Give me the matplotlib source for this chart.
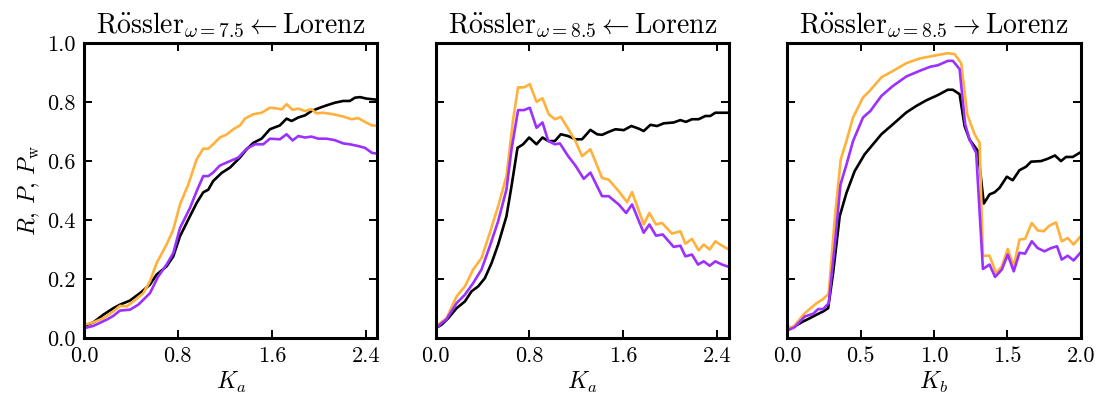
import numpy as np
import matplotlib; matplotlib.use("Agg")
import matplotlib.pyplot as plt

# panel 1: Rossler(w=7.5) <- Lorenz
p1_black_x = [0, 0.08, 0.165, 0.25, 0.307, 0.392, 0.477, 0.562, 0.619, 0.704, 0.761, 0.818, 0.903, 0.96, 1.016,
              1.059, 1.10, 1.173, 1.244, 1.329, 1.386, 1.443, 1.513, 1.584, 1.669, 1.726, 1.769, 1.826, 1.882,
              1.939, 2.01, 2.067, 2.137, 2.209, 2.265, 2.308, 2.351, 2.407, 2.45, 2.5]
p1_black_y = [0.041, 0.053, 0.079, 0.101, 0.113, 0.127, 0.152, 0.181, 0.215, 0.243, 0.277, 0.345, 0.413, 0.458,
              0.494, 0.503, 0.532, 0.56, 0.578, 0.612, 0.64, 0.662, 0.676, 0.708, 0.721, 0.744, 0.736, 0.748,
              0.755, 0.77, 0.781, 0.789, 0.798, 0.804, 0.804, 0.815, 0.817, 0.812, 0.81, 0.808]
p1_orange_x = [0, 0.08, 0.165, 0.25, 0.307, 0.364, 0.42, 0.505, 0.562, 0.619, 0.704, 0.761, 0.818, 0.889, 0.96,
               1.016, 1.059, 1.10, 1.158, 1.215, 1.272, 1.329, 1.371, 1.443, 1.513, 1.584, 1.655, 1.683, 1.726,
               1.777, 1.826, 1.882, 1.939, 1.98, 2.038, 2.123, 2.209, 2.279, 2.336, 2.393, 2.453, 2.5]
p1_orange_y = [0.045, 0.053, 0.067, 0.09, 0.109, 0.107, 0.124, 0.152, 0.192, 0.254, 0.317, 0.368, 0.453, 0.521,
               0.606, 0.642, 0.642, 0.657, 0.68, 0.69, 0.708, 0.721, 0.744, 0.759, 0.764, 0.781, 0.778, 0.775,
               0.793, 0.774, 0.778, 0.77, 0.776, 0.762, 0.764, 0.759, 0.751, 0.742, 0.746, 0.733, 0.721, 0.72]
p1_purple_x = [0, 0.08, 0.193, 0.25, 0.307, 0.392, 0.463, 0.562, 0.633, 0.704, 0.761, 0.818, 0.903, 0.96, 1.016,
               1.059, 1.10, 1.158, 1.244, 1.315, 1.386, 1.457, 1.527, 1.584, 1.669, 1.726, 1.777, 1.826, 1.882,
               1.939, 1.996, 2.067, 2.137, 2.209, 2.265, 2.336, 2.393, 2.453, 2.5]
p1_purple_y = [0.033, 0.041, 0.062, 0.075, 0.093, 0.096, 0.113, 0.152, 0.209, 0.249, 0.288, 0.373, 0.441, 0.498,
               0.549, 0.549, 0.561, 0.585, 0.6, 0.612, 0.642, 0.657, 0.657, 0.676, 0.674, 0.691, 0.67, 0.685,
               0.68, 0.683, 0.676, 0.676, 0.671, 0.66, 0.657, 0.651, 0.645, 0.628, 0.625]

# panel 2: Rossler(w=8.5) <- Lorenz
p2_black_x = [0, 0.051, 0.108, 0.179, 0.25, 0.306, 0.363, 0.42, 0.477, 0.533, 0.604, 0.647, 0.698, 0.746, 0.797,
              0.86, 0.911, 0.96, 1.016, 1.067, 1.129, 1.191, 1.248, 1.319, 1.376, 1.418, 1.475, 1.532, 1.603,
              1.668, 1.731, 1.773, 1.83, 1.887, 1.943, 2.028, 2.085, 2.133, 2.184, 2.241, 2.298, 2.34, 2.383, 2.5]
p2_black_y = [0.033, 0.045, 0.067, 0.101, 0.124, 0.158, 0.175, 0.203, 0.254, 0.317, 0.413, 0.515, 0.645, 0.657,
              0.68, 0.657, 0.68, 0.668, 0.668, 0.691, 0.685, 0.674, 0.674, 0.706, 0.691, 0.689, 0.699, 0.708,
              0.705, 0.719, 0.71, 0.702, 0.723, 0.719, 0.728, 0.731, 0.739, 0.733, 0.742, 0.742, 0.753, 0.753,
              0.764, 0.764]
p2_orange_x = [0, 0.094, 0.179, 0.25, 0.32, 0.391, 0.462, 0.533, 0.604, 0.661, 0.703, 0.754, 0.803, 0.86, 0.911,
               0.964, 1.016, 1.067, 1.129, 1.191, 1.248, 1.319, 1.418, 1.475, 1.56, 1.631, 1.674, 1.773, 1.821,
               1.878, 1.929, 2.014, 2.085, 2.128, 2.184, 2.241, 2.284, 2.335, 2.383, 2.44, 2.5]
p2_orange_y = [0.039, 0.067, 0.141, 0.175, 0.232, 0.271, 0.356, 0.447, 0.549, 0.742, 0.85, 0.85, 0.861, 0.801,
               0.813, 0.759, 0.742, 0.75, 0.71, 0.668, 0.617, 0.64, 0.543, 0.537, 0.498, 0.461, 0.495, 0.385,
               0.424, 0.385, 0.39, 0.354, 0.362, 0.32, 0.336, 0.297, 0.317, 0.3, 0.328, 0.313, 0.3]
p2_purple_x = [0, 0.094, 0.179, 0.25, 0.32, 0.391, 0.462, 0.533, 0.604, 0.647, 0.703, 0.754, 0.803, 0.86, 0.911,
               0.96, 1.016, 1.059, 1.129, 1.191, 1.262, 1.319, 1.418, 1.475, 1.56, 1.623, 1.674, 1.773, 1.821,
               1.878, 1.935, 2.028, 2.085, 2.128, 2.184, 2.236, 2.284, 2.335, 2.383, 2.44, 2.5]
p2_purple_y = [0.033, 0.064, 0.118, 0.147, 0.186, 0.232, 0.311, 0.396, 0.504, 0.64, 0.773, 0.773, 0.781, 0.713,
               0.731, 0.668, 0.657, 0.66, 0.617, 0.585, 0.54, 0.561, 0.481, 0.481, 0.453, 0.424, 0.453, 0.357,
               0.385, 0.347, 0.351, 0.309, 0.313, 0.277, 0.283, 0.249, 0.26, 0.245, 0.26, 0.249, 0.241]

# panel 3: Rossler(w=8.5) -> Lorenz
p3_black_x = [0, 0.041, 0.109, 0.154, 0.2, 0.245, 0.279, 0.313, 0.358, 0.404, 0.46, 0.528, 0.585, 0.642, 0.721,
              0.812, 0.88, 0.948, 1.027, 1.095, 1.129, 1.175, 1.209, 1.243, 1.3, 1.34, 1.379, 1.413, 1.447,
              1.497, 1.537, 1.583, 1.628, 1.662, 1.73, 1.776, 1.825, 1.866, 1.9, 1.946, 2.0]
p3_black_y = [0.028, 0.037, 0.056, 0.067, 0.079, 0.09, 0.101, 0.22, 0.413, 0.492, 0.566, 0.623, 0.657, 0.691,
              0.725, 0.765, 0.787, 0.806, 0.824, 0.842, 0.842, 0.827, 0.719, 0.673, 0.634, 0.456, 0.487, 0.494,
              0.509, 0.547, 0.535, 0.569, 0.581, 0.598, 0.6, 0.608, 0.619, 0.6, 0.614, 0.614, 0.63]
p3_orange_x = [0, 0.041, 0.12, 0.2, 0.245, 0.283, 0.324, 0.365, 0.404, 0.449, 0.517, 0.562, 0.642, 0.721, 0.812,
               0.902, 0.975, 1.027, 1.095, 1.141, 1.186, 1.227, 1.277, 1.311, 1.334, 1.379, 1.424, 1.463, 1.503,
               1.544, 1.583, 1.621, 1.667, 1.707, 1.748, 1.787, 1.832, 1.871, 1.912, 1.952, 2.0]
p3_orange_y = [0.037, 0.037, 0.084, 0.118, 0.132, 0.15, 0.402, 0.606, 0.668, 0.748, 0.816, 0.838, 0.884, 0.906,
               0.932, 0.948, 0.955, 0.96, 0.966, 0.963, 0.932, 0.759, 0.691, 0.663, 0.279, 0.279, 0.22, 0.243,
               0.302, 0.243, 0.334, 0.336, 0.39, 0.365, 0.362, 0.381, 0.392, 0.328, 0.339, 0.317, 0.345]
p3_purple_x = [0, 0.052, 0.12, 0.177, 0.211, 0.245, 0.283, 0.324, 0.363, 0.404, 0.449, 0.517, 0.567, 0.642, 0.721,
               0.812, 0.902, 0.975, 1.027, 1.095, 1.129, 1.175, 1.213, 1.243, 1.288, 1.334, 1.379, 1.417, 1.463,
               1.503, 1.544, 1.583, 1.621, 1.667, 1.707, 1.753, 1.798, 1.839, 1.871, 1.912, 1.952, 2.0]
p3_purple_y = [0.025, 0.037, 0.073, 0.082, 0.098, 0.098, 0.118, 0.311, 0.52, 0.588, 0.668, 0.748, 0.77, 0.821,
               0.855, 0.887, 0.906, 0.92, 0.925, 0.94, 0.94, 0.912, 0.725, 0.673, 0.628, 0.234, 0.249, 0.207,
               0.232, 0.283, 0.226, 0.289, 0.286, 0.328, 0.305, 0.294, 0.305, 0.311, 0.266, 0.279, 0.263, 0.29]

titles = [r"$\mathrm{R\ddot{o}ssler}_{\omega=7.5} \leftarrow \mathrm{Lorenz}$",
          r"$\mathrm{R\ddot{o}ssler}_{\omega=8.5} \leftarrow \mathrm{Lorenz}$",
          r"$\mathrm{R\ddot{o}ssler}_{\omega=8.5} \rightarrow \mathrm{Lorenz}$"]
xlabels = [r"$K_a$", r"$K_a$", r"$K_b$"]
xlims = [2.5, 2.5, 2.0]
xticks = [[0.0, 0.8, 1.6, 2.4], [0.0, 0.8, 1.6, 2.4], [0.0, 0.5, 1.0, 1.5, 2.0]]

ORANGE, PURPLE = "#ffb13b", "#9b30ff"

plt.rcParams.update({"font.family": "serif", "font.serif": ["cmr10"], "mathtext.fontset": "cm",
                     "axes.formatter.use_mathtext": True, "font.size": 15})

fig, axes = plt.subplots(1, 3, figsize=(10.96, 3.96), dpi=100)
fig.subplots_adjust(left=0.0766, right=0.986, bottom=0.1465, top=0.891, wspace=0.198)

panels = [(p1_black_x, p1_black_y, p1_orange_x, p1_orange_y, p1_purple_x, p1_purple_y),
          (p2_black_x, p2_black_y, p2_orange_x, p2_orange_y, p2_purple_x, p2_purple_y),
          (p3_black_x, p3_black_y, p3_orange_x, p3_orange_y, p3_purple_x, p3_purple_y)]

for i, ax in enumerate(axes):
    bx, by, ox, oy, px, py = panels[i]
    ax.plot(bx, by, color="black", lw=1.9)
    ax.plot(ox, oy, color=ORANGE, lw=1.9)
    ax.plot(px, py, color=PURPLE, lw=1.9)
    ax.set_xlim(0, xlims[i]); ax.set_ylim(0, 1.0)
    ax.set_xticks(xticks[i])
    ax.set_yticks([0.0, 0.2, 0.4, 0.6, 0.8, 1.0])
    ax.xaxis.set_major_formatter(plt.FormatStrFormatter("%.1f"))
    ax.yaxis.set_major_formatter(plt.FormatStrFormatter("%.1f"))
    ax.tick_params(direction="in", top=True, right=True, length=6, width=1.4, labelsize=16, pad=6)
    for s in ax.spines.values():
        s.set_linewidth(2.2)
    ax.set_xlabel(xlabels[i], fontsize=17, labelpad=3)
    ax.set_title(titles[i], fontsize=20, pad=7)
    if i > 0:
        ax.set_yticklabels([])

axes[0].set_ylabel(r"$R$, $P$, $P_\mathrm{w}$", fontsize=17, labelpad=4)

fig.savefig("out.png")
